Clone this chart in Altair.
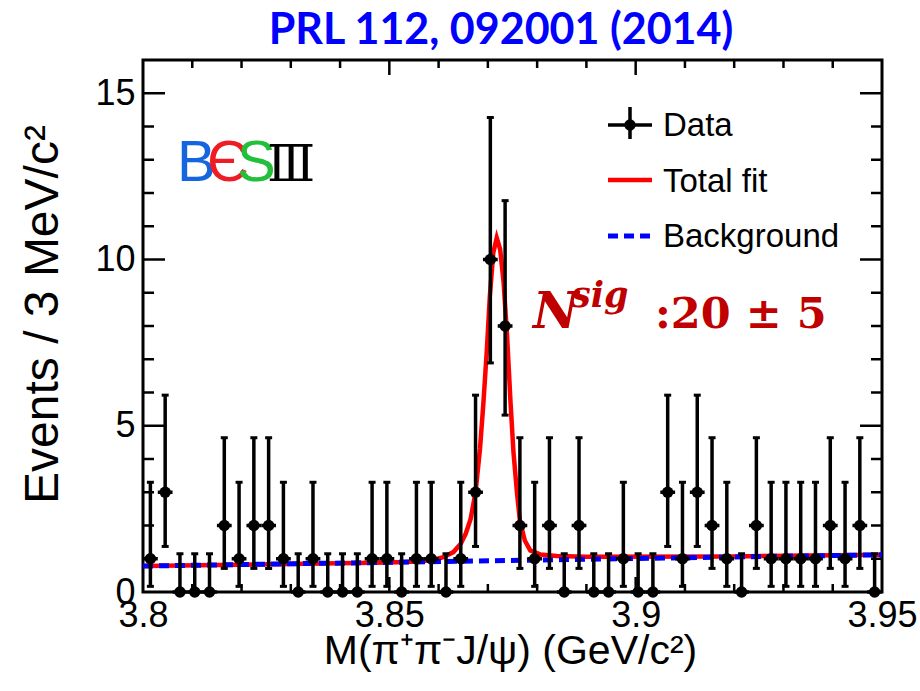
import altair as alt
import pandas as pd

# ---------------- values ----------------
bin_start = 3.80
bin_width = 0.003
counts = [1, 3, 0, 0, 0, 2, 1, 2, 2, 1,
          0, 1, 0, 0, 0, 1, 1, 0, 1, 1,
          0, 1, 3, 10, 8, 2, 1, 2, 0, 2,
          0, 0, 1, 0, 0, 3, 1, 3, 2, 1,
          0, 2, 1, 1, 1, 1, 2, 1, 2, 0]
# asymmetric (Poisson) error-bar ends, per count
err_low = {0: 0.0, 1: 0.17, 2: 0.71, 3: 1.37, 8: 5.32, 10: 6.89}
err_high = {0: 1.15, 1: 3.30, 2: 4.64, 3: 5.92, 8: 11.77, 10: 14.27}

# total fit curve
fit_x = [3.8000, 3.8500, 3.8560, 3.8590, 3.8610, 3.8630, 3.8645, 3.8655,
         3.8665, 3.8675, 3.8684, 3.8691, 3.8698, 3.8704, 3.8711, 3.8718,
         3.8725, 3.8732, 3.8739, 3.8746, 3.8752, 3.8759, 3.8765, 3.8775,
         3.8786, 3.8806, 3.8840, 3.8900, 3.9200, 3.9500]
fit_y = [0.78, 0.89, 0.92, 0.97, 1.05, 1.20, 1.45, 1.75,
         2.20, 3.00, 4.30, 5.70, 7.30, 8.90, 10.20, 10.65,
         10.30, 9.30, 7.70, 5.70, 4.20, 3.00, 2.15, 1.55,
         1.25, 1.13, 1.08, 1.06, 1.07, 1.12]
# background (blue dashed)
bkg_x = [3.80, 3.95]
bkg_y = [0.78, 1.12]

x_major = [3.80, 3.85, 3.90, 3.95]
x_minor = [3.81, 3.82, 3.83, 3.84, 3.86, 3.87, 3.88, 3.89,
           3.91, 3.92, 3.93, 3.94]
y_major = [0, 5, 10, 15]
y_minor = [1, 2, 3, 4, 6, 7, 8, 9, 11, 12, 13, 14]

title_text = "PRL 112, 092001 (2014)"
x_title = "M(π⁺π⁻J/ψ) (GeV/c²)"
y_title = "Events / 3 MeV/c²"
legend_labels = ["Data", "Total fit", "Background"]

# ---------------- layout ----------------
W, H = 739, 532
SANS = "Liberation Sans"
SERIF = "DejaVu Serif"
NCOL = "#C00000"

xs = alt.Scale(domain=[3.80, 3.95], nice=False, zero=False)
ys = alt.Scale(domain=[0, 16], nice=False, zero=False)

AX_X = alt.Axis(values=x_major, format=".6~g", labelFlush=False,
                labelOverlap=False, labelPadding=6, labelBound=False,
                title=x_title, titleFontSize=41, titleX=367, titleY=71,
                titleBaseline="alphabetic", titleAlign="center")
AX_Y = alt.Axis(values=y_major, labelPadding=8, labelOverlap=False,
                title=y_title, titleFontSize=48, titleAngle=270,
                titleX=-86, titleY=254, titleBaseline="alphabetic",
                titleAlign="center")


def X(f):
    return alt.X(f, scale=xs, axis=AX_X)


def Y(f):
    return alt.Y(f, scale=ys, axis=AX_Y)


rows = []
for i, c in enumerate(counts):
    lo = bin_start + i * bin_width
    rows.append({"lo": lo, "hi": lo + bin_width, "xc": lo + bin_width / 2,
                 "n": c, "elo": err_low[c], "ehi": err_high[c]})
pts = pd.DataFrame(rows)
fit = pd.DataFrame({"x": fit_x, "y": fit_y})
bkg = pd.DataFrame({"x": bkg_x, "y": bkg_y})

one = pd.DataFrame({"a": [0]})

fit_line = alt.Chart(fit).mark_line(color="#FF0000", strokeWidth=4.5).encode(
    x=X("x:Q"), y=Y("y:Q"))
bkg_line = alt.Chart(bkg).mark_line(color="#0000FF", strokeWidth=5,
                                    strokeDash=[10, 6]).encode(
    x=X("x:Q"), y=Y("y:Q"))

vbars = alt.Chart(pts).mark_rule(color="black", strokeWidth=3.5).encode(
    x=X("xc:Q"), y=Y("elo:Q"), y2="ehi:Q")
caps_hi = alt.Chart(pts).mark_tick(orient="horizontal", size=7, thickness=3,
                                   color="black", opacity=1).encode(
    x=X("xc:Q"), y=Y("ehi:Q"))
caps_lo = alt.Chart(pts).mark_tick(orient="horizontal", size=7, thickness=3,
                                   color="black", opacity=1).encode(
    x=X("xc:Q"), y=Y("elo:Q"))
hbars = alt.Chart(pts).mark_rule(color="black", strokeWidth=3.5).encode(
    x=X("lo:Q"), x2="hi:Q", y=Y("n:Q"))
dots = alt.Chart(pts).mark_circle(color="black", size=130, opacity=1).encode(
    x=X("xc:Q"), y=Y("n:Q"))


# inward ticks on all four sides
def xticks(vals, length):
    d = pd.DataFrame({"v": vals})
    b = alt.Chart(d).mark_rule(color="black", strokeWidth=2.5).encode(
        x=X("v:Q"), y=alt.value(H), y2=alt.value(H - length))
    t = alt.Chart(d).mark_rule(color="black", strokeWidth=2.5).encode(
        x=X("v:Q"), y=alt.value(0), y2=alt.value(length))
    return [b, t]


def yticks(vals, length):
    d = pd.DataFrame({"v": vals})
    l = alt.Chart(d).mark_rule(color="black", strokeWidth=2.5).encode(
        y=Y("v:Q"), x=alt.value(0), x2=alt.value(length))
    r = alt.Chart(d).mark_rule(color="black", strokeWidth=2.5).encode(
        y=Y("v:Q"), x=alt.value(W), x2=alt.value(W - length))
    return [l, r]


tick_layers = (xticks(x_major[1:-1], 15) + xticks(x_minor, 8)
               + yticks(y_major[1:], 22) + yticks(y_minor, 11))

# title as text above the frame
title_layer = alt.Chart(one).mark_text(
    text=title_text, font="Lato", fontSize=43, fontWeight="bold",
    color="#0000FF", align="center", baseline="alphabetic").encode(
    x=alt.value(358), y=alt.value(-16))

# legend
leg = []
leg.append(alt.Chart(one).mark_rule(color="black", strokeWidth=3.5).encode(
    x=alt.value(465), x2=alt.value(509), y=alt.value(65)))
leg.append(alt.Chart(one).mark_rule(color="black", strokeWidth=3.5).encode(
    x=alt.value(487), y=alt.value(47), y2=alt.value(79)))
leg.append(alt.Chart(one).mark_circle(color="black", size=130, opacity=1).encode(
    x=alt.value(487), y=alt.value(65)))
leg.append(alt.Chart(one).mark_rule(color="#FF0000", strokeWidth=4.5).encode(
    x=alt.value(465), x2=alt.value(509), y=alt.value(120)))
leg.append(alt.Chart(one).mark_rule(color="#0000FF", strokeWidth=5,
                                    strokeDash=[10, 6]).encode(
    x=alt.value(465), x2=alt.value(507), y=alt.value(176)))
for lab, yb in zip(legend_labels, [76, 132, 187]):
    leg.append(alt.Chart(one).mark_text(text=lab, font=SANS, fontSize=33,
                                        align="left", baseline="alphabetic",
                                        color="black").encode(
        x=alt.value(520), y=alt.value(yb)))

# N^sig annotation
ann = [
    alt.Chart(one).mark_text(text="N", font=SERIF, fontSize=50, fontWeight="bold",
                             fontStyle="italic", color=NCOL, align="left",
                             baseline="alphabetic").encode(x=alt.value(390), y=alt.value(268)),
    alt.Chart(one).mark_text(text="sig", font=SERIF, fontSize=35, fontWeight="bold",
                             fontStyle="italic", color=NCOL, align="left",
                             baseline="alphabetic").encode(x=alt.value(428), y=alt.value(247)),
    alt.Chart(one).mark_text(text=":20 ± 5", font=SERIF, fontSize=43, fontWeight="bold",
                             color=NCOL, align="left",
                             baseline="alphabetic").encode(x=alt.value(512), y=alt.value(268)),
]

# BESIII logo
logo = []
for ch, col, xp, fnt, fs, fw in [("B", "#1565E0", 34, SANS, 58, "normal"),
                                 ("Є", "#EE1C25", 64, SANS, 58, "normal"),
                                 ("S", "#22C03A", 94, SANS, 58, "normal"),
                                 ("Ⅲ", "#000000", 124, SERIF, 50, "normal")]:
    logo.append(alt.Chart(one).mark_text(text=ch, font=fnt, fontSize=fs,
                                         fontWeight=fw, color=col, align="left",
                                         baseline="alphabetic").encode(
        x=alt.value(xp), y=alt.value(121)))

chart = alt.layer(
    fit_line, bkg_line, vbars, caps_hi, caps_lo, hbars, dots,
    *tick_layers, title_layer, *leg, *ann, *logo
).properties(
    width=W, height=H,
    autosize=alt.AutoSizeParams(type="none"),
    padding={"left": 143, "top": 60, "right": 38, "bottom": 99},
).configure_view(
    stroke="black", strokeWidth=3
).configure_axis(
    grid=False, domain=False, ticks=False,
    labelFont=SANS, labelFontSize=36, labelColor="black",
    titleFont=SANS, titleColor="black", titleFontWeight="normal"
)

chart.save("out.html", embed_options={"renderer": "svg", "actions": False})
